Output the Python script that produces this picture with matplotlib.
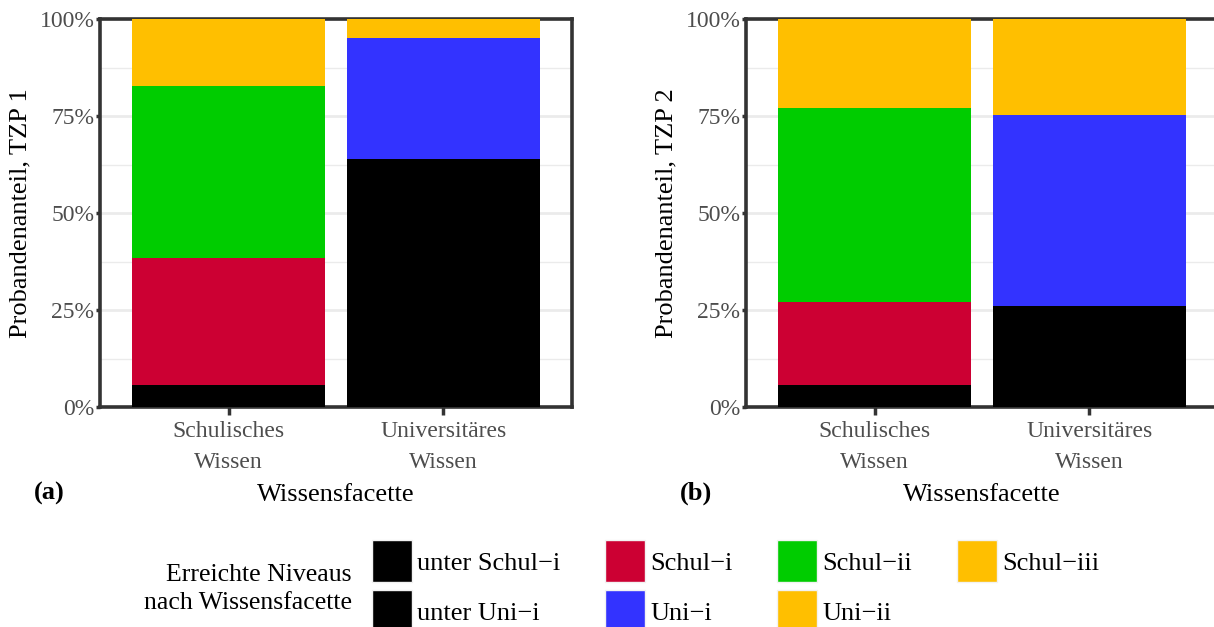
import numpy as np
import matplotlib.pyplot as plt
from matplotlib.patches import Patch

plt.rcParams['font.family'] = ['Liberation Serif', 'DejaVu Serif']

# Kategorien und Stufen
facetten = ['Schulisches\nWissen', 'Universitäres\nWissen']
schul_stufen = ['unter Schul−i', 'Schul−i', 'Schul−ii', 'Schul−iii']
uni_stufen = ['unter Uni−i', 'Uni−i', 'Uni−ii']
schul_farben = ['#000000', '#CC0033', '#00CC00', '#FFBF00']
uni_farben = ['#000000', '#3333FF', '#FFBF00']

# Anteile in Prozent
tzp1_schul = [5.7, 32.8, 44.3, 17.2]
tzp1_uni = [63.9, 31.2, 4.9]
tzp2_schul = [5.7, 21.4, 50.0, 22.9]
tzp2_uni = [26.0, 49.3, 24.7]

yticks = [0, 25, 50, 75, 100]
ytick_labels = ['0%', '25%', '50%', '75%', '100%']

W, H = 1214, 627
fig = plt.figure(figsize=(W / 100, H / 100), dpi=100)

grau = '#333333'


def panel(left_px, schul, uni, ylabel, tag):
    ax = fig.add_axes([left_px / W, 1 - 407 / H, 472 / W, 388 / H])
    for x, werte, farben in [(0, schul, schul_farben), (1, uni, uni_farben)]:
        unten = 0
        for w, f in zip(werte, farben):
            ax.bar(x, w, bottom=unten, width=0.9, color=f, zorder=3)
            unten += w
    ax.set_xlim(-0.6, 1.6)
    ax.set_ylim(0, 100)
    ax.set_xticks([0, 1])
    ax.set_xticklabels(facetten, color='#4d4d4d', fontsize=17, linespacing=1.65)
    ax.set_yticks(yticks)
    ax.set_yticklabels(ytick_labels, color='#4d4d4d', fontsize=17)
    ax.set_yticks([12.5, 37.5, 62.5, 87.5], minor=True)
    ax.tick_params(axis='y', which='minor', length=0)
    ax.grid(axis='y', which='major', color='#ebebeb', lw=2.0, zorder=0)
    ax.grid(axis='y', which='minor', color='#ebebeb', lw=1.0, zorder=0)
    ax.tick_params(axis='x', length=6, width=2.5, color=grau, pad=4)
    ax.tick_params(axis='y', which='major', length=3, width=2.5, color=grau, pad=1)
    for s in ax.spines.values():
        s.set_color(grau)
        s.set_linewidth(2.6)
    ax.set_ylabel(ylabel, fontsize=19, labelpad=6)
    ax.set_xlabel('Wissensfacette', fontsize=19, labelpad=8)
    ax.set_axisbelow(True)
    fig.text((left_px - 66) / W, 1 - 493 / H, tag, fontsize=19, fontweight='bold',
             ha='left', va='center')
    return ax


panel(100, tzp1_schul, tzp1_uni, 'Probandenanteil, TZP 1', '(a)')
panel(746, tzp2_schul, tzp2_uni, 'Probandenanteil, TZP 2', '(b)')

# Legende: spaltenweise Reihenfolge
labels = [schul_stufen[0], uni_stufen[0], schul_stufen[1], uni_stufen[1],
          schul_stufen[2], uni_stufen[2], schul_stufen[3]]
farben = [schul_farben[0], uni_farben[0], schul_farben[1], uni_farben[1],
          schul_farben[2], uni_farben[2], schul_farben[3]]
handles = [Patch(facecolor=f, edgecolor='#f2f2f2', lw=1) for f in farben]
fig.legend(handles, labels, ncol=4, loc='upper left',
           bbox_to_anchor=(372 / W, 1 - 540 / H), frameon=False, fontsize=19,
           handlelength=1.52, handleheight=2.1, handletextpad=0.2,
           columnspacing=1.68, labelspacing=0.3, borderpad=0, borderaxespad=0)
fig.text(352 / W, 1 - 589 / H, 'Erreichte Niveaus\nnach Wissensfacette',
         ha='right', va='center', fontsize=18.5, linespacing=1.3)

fig.savefig('out.png', dpi=100)
